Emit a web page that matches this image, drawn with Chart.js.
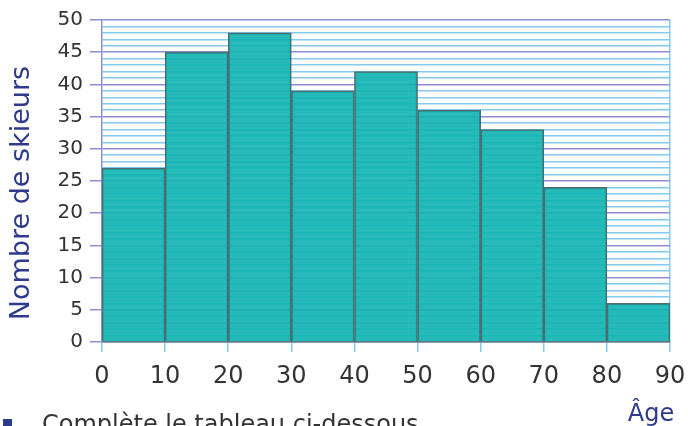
<!DOCTYPE html>
<html>
<head>
<meta charset="utf-8">
<script src="https://cdn.jsdelivr.net/npm/chart.js@4/dist/chart.umd.min.js"></script>
<style>
  html, body { margin: 0; padding: 0; background: #fff; }
  #wrap { width: 688px; height: 426px; position: relative; }
</style>
</head>
<body>
<div id="wrap"><canvas id="chart"></canvas></div>
<script>
// Age classes (start of each 10-year bin) and number of skiers
const classStarts = [0, 10, 20, 30, 40, 50, 60, 70, 80];
const skierCounts = [27, 45, 48, 39, 42, 36, 33, 24, 6];
const xTickValues = [0, 10, 20, 30, 40, 50, 60, 70, 80, 90];
const yTitle = "Nombre de skieurs";
const xTitle = "Âge";
const footerText = "Complète le tableau ci-dessous";

const minorGrid = "#86c9ef";
const majorGrid = "#8e8fd2";
const darkBlue = "#2e3a8c";

// Extra texts: rotated y title, "Âge" and the cut-off line below
const textPlugin = {
  id: "texts",
  afterDraw(chart) {
    const ctx = chart.ctx;
    ctx.save();
    ctx.fillStyle = darkBlue;
    ctx.font = "27px 'DejaVu Sans'";
    ctx.textAlign = "center";
    ctx.textBaseline = "middle";
    ctx.translate(22, 193);
    ctx.rotate(-Math.PI / 2);
    ctx.fillText(yTitle, 0, 0);
    ctx.restore();

    ctx.save();
    ctx.fillStyle = darkBlue;
    ctx.font = "24px 'DejaVu Sans'";
    ctx.textAlign = "center";
    ctx.textBaseline = "alphabetic";
    ctx.fillText(xTitle, 651, 421);
    ctx.fillStyle = "#333";
    ctx.textAlign = "left";
    ctx.fillText(footerText, 42, 432);
    ctx.fillStyle = darkBlue;
    ctx.fillRect(3, 419, 9, 8);
    ctx.restore();
  }
};

new Chart(document.getElementById("chart"), {
  type: "bar",
  data: {
    datasets: [{
      data: classStarts.map((s, i) => ({ x: s + 5, y: skierCounts[i] })),
      backgroundColor: "rgba(14,180,176,0.9)",
      borderColor: "#4f6b70",
      borderWidth: 1.5,
      barPercentage: 1,
      categoryPercentage: 1
    }]
  },
  options: {
    responsive: true,
    maintainAspectRatio: false,
    animation: false,
    layout: { autoPadding: false, padding: { top: 20, right: 18, left: 0, bottom: 0 } },
    plugins: { legend: { display: false }, tooltip: { enabled: false } },
    scales: {
      x: {
        type: "linear",
        min: 0,
        max: 90,
        offset: false,
        afterBuildTicks(scale) {
          scale.ticks = xTickValues.map(v => ({ value: v }));
        },
        afterFit(scale) {
          scale.height = 84;
          // keep the label overhang from shrinking the plot
          scale.paddingLeft = 0;
          scale.paddingRight = 0;
        },
        ticks: { color: "#333", font: { size: 24, family: "'DejaVu Sans'" }, padding: 10 },
        grid: {
          offset: false,
          drawOnChartArea: true,
          color: c => (c.tick && c.tick.value === 90 ? minorGrid : "rgba(0,0,0,0)"),
          lineWidth: 1.5,
          tickLength: 10,
          tickColor: minorGrid
        },
        border: { color: "#5d7580", width: 1.5 }
      },
      y: {
        min: 0,
        max: 50,
        afterFit(scale) { scale.width = 102; },
        ticks: {
          stepSize: 1,
          autoSkip: false,
          color: "#333",
          font: { size: 20, family: "'DejaVu Sans'" },
          padding: 7,
          callback: v => (v % 5 === 0 ? v : "")
        },
        grid: {
          color: c => (c.tick.value % 5 === 0 ? majorGrid : minorGrid),
          lineWidth: 1.5,
          tickLength: 12,
          tickColor: c => (c.tick.value % 5 === 0 ? majorGrid : "rgba(0,0,0,0)")
        },
        border: { color: majorGrid, width: 1.5 }
      }
    }
  },
  plugins: [textPlugin]
});
</script>
</body>
</html>
